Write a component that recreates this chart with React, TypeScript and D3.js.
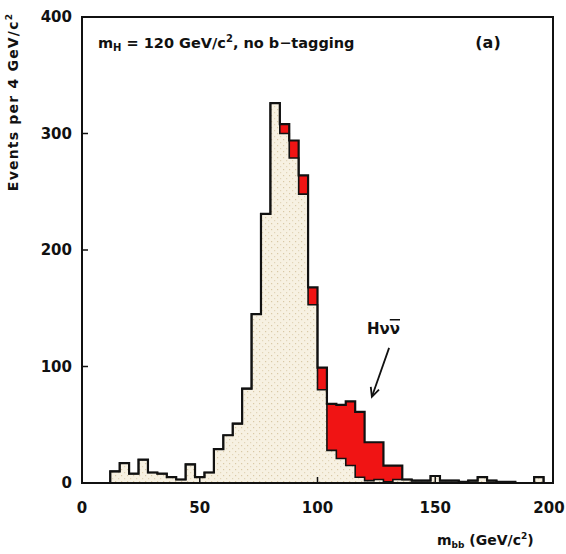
import React from "react";
import * as d3 from "d3";

// 4 GeV bins from 0 to 200 GeV/c^2
const binLow: number[] = d3.range(0, 200, 4);
const background: number[] = [
  0, 0, 0, 10, 17, 8, 20, 9, 8, 5,
  3, 16, 5, 9, 29, 41, 51, 81, 145, 231,
  326, 300, 279, 248, 153, 80, 28, 21, 15, 5,
  2, 3, 1, 3, 3, 2, 2, 6, 2, 2,
  1, 2, 5, 2, 1, 1, 0, 0, 5, 0,
];
const signal: number[] = [
  0, 0, 0, 0, 0, 0, 0, 0, 0, 0,
  0, 0, 0, 0, 0, 0, 0, 0, 0, 0,
  0, 8, 15, 16, 15, 19, 40, 46, 55, 56,
  33, 32, 14, 12, 0, 0, 0, 0, 0, 0,
  0, 0, 0, 0, 0, 0, 0, 0, 0, 0,
];
const xTicks: number[] = [0, 50, 100, 150, 200];
const yTicks: number[] = [0, 100, 200, 300, 400];
// annotation arrow: from (mass, events) to (mass, events)
const arrowFrom: [number, number] = [130.4, 116];
const arrowTo: [number, number] = [123.1, 74];

const W = 566;
const H = 554;
const M = { left: 82, right: 553, top: 17, bottom: 483 };
const FONT = "'DejaVu Sans', 'Liberation Sans', sans-serif";

export default function App() {
  const x = d3.scaleLinear().domain([0, 200]).range([M.left, M.right]);
  const y = d3.scaleLinear().domain([0, 400]).range([M.bottom, M.top]);

  type P = { x: number; lo: number; hi: number };
  const mk = (lo: (i: number) => number, hi: (i: number) => number): P[] => {
    const pts = binLow.map((b, i) => ({ x: b, lo: lo(i), hi: hi(i) }));
    const last = binLow.length - 1;
    pts.push({ x: 200, lo: lo(last), hi: hi(last) });
    return pts;
  };
  const bgPts = mk(() => 0, (i) => background[i]);
  const sigPts = mk((i) => background[i], (i) => background[i] + signal[i]);

  const area = d3
    .area<P>()
    .x((d) => x(d.x))
    .y0((d) => y(d.lo))
    .y1((d) => y(d.hi))
    .curve(d3.curveStepAfter);
  const line = d3
    .line<P>()
    .x((d) => x(d.x))
    .y((d) => y(d.hi))
    .curve(d3.curveStepAfter);

  const ax0 = x(arrowFrom[0]);
  const ay0 = y(arrowFrom[1]);
  const ax1 = x(arrowTo[0]);
  const ay1 = y(arrowTo[1]);
  const ang = Math.atan2(ay1 - ay0, ax1 - ax0);
  const hl = 10;
  const hw = 0.45;
  const head = `M${ax1 - hl * Math.cos(ang - hw)},${ay1 - hl * Math.sin(ang - hw)} L${ax1},${ay1} L${
    ax1 - hl * Math.cos(ang + hw)
  },${ay1 - hl * Math.sin(ang + hw)}`;

  return (
    <svg
      width={W}
      height={H}
      style={{ position: "absolute", left: 0, top: 0, background: "#fff" }}
      fontFamily={FONT}
    >
      <defs>
        <pattern id="dots" width="6" height="6" patternUnits="userSpaceOnUse">
          <rect width="6" height="6" fill="#f7f1e2" />
          <rect x="1" y="1" width="1.2" height="1.2" fill="#d9c9a6" />
          <rect x="4" y="4" width="1.2" height="1.2" fill="#e2d5b8" />
        </pattern>
      </defs>
      <path d={area(bgPts) ?? ""} fill="url(#dots)" />
      <path d={area(sigPts) ?? ""} fill="#f01414" />
      <path d={line(bgPts) ?? ""} fill="none" stroke="#111" strokeWidth={1.6} />
      <path d={line(sigPts) ?? ""} fill="none" stroke="#111" strokeWidth={2.2} />

      <rect
        x={M.left}
        y={M.top}
        width={M.right - M.left}
        height={M.bottom - M.top}
        fill="none"
        stroke="#111"
        strokeWidth={2}
      />
      {yTicks.map((t) => (
        <g key={"y" + t}>
          <line x1={M.left} x2={M.left + 6} y1={y(t)} y2={y(t)} stroke="#111" strokeWidth={1.5} />
          <text
            x={72}
            y={y(t)}
            dy="0.36em"
            textAnchor="end"
            fontSize={15}
            fontWeight="bold"
            fill="#111"
          >
            {t}
          </text>
        </g>
      ))}
      {xTicks.map((t) => (
        <g key={"x" + t}>
          <line x1={x(t)} x2={x(t)} y1={M.bottom} y2={M.bottom - 6} stroke="#111" strokeWidth={1.5} />
          <text
            x={t === 200 ? x(t) - 4 : x(t)}
            y={508}
            dy="0.36em"
            textAnchor="middle"
            fontSize={15}
            fontWeight="bold"
            fill="#111"
          >
            {t}
          </text>
        </g>
      ))}

      <text x={437} y={545} fontSize={14} fontWeight="bold" fill="#111">
        m<tspan fontSize={9} dy={3}>bb</tspan>
        <tspan dy={-3}> (GeV/c</tspan>
        <tspan fontSize={9} dy={-6}>2</tspan>
        <tspan dy={6}>)</tspan>
      </text>

      <text
        transform="translate(18,102) rotate(-90)"
        textAnchor="middle"
        fontSize={14}
        letterSpacing={1.2}
        fontWeight="bold"
        fill="#111"
      >
        Events per 4 GeV/c<tspan fontSize={9} dy={-6}>2</tspan>
      </text>

      <text x={98} y={48} fontSize={14.5} fontWeight="bold" fill="#111">
        m<tspan fontSize={10} dy={3}>H</tspan>
        <tspan dy={-3}> = 120 GeV/c</tspan>
        <tspan fontSize={10} dy={-6}>2</tspan>
        <tspan dy={6}>, no b−tagging</tspan>
      </text>
      <text x={488} y={48} textAnchor="middle" fontSize={16} fontWeight="bold" fill="#111">
        (a)
      </text>

      <text x={367} y={334} fontSize={15} fontWeight="bold" fill="#111">
        Hν<tspan textDecoration="overline">ν</tspan>
      </text>
      <line x1={ax0} y1={ay0} x2={ax1} y2={ay1} stroke="#111" strokeWidth={1.8} />
      <path d={head} fill="none" stroke="#111" strokeWidth={1.8} />
    </svg>
  );
}
